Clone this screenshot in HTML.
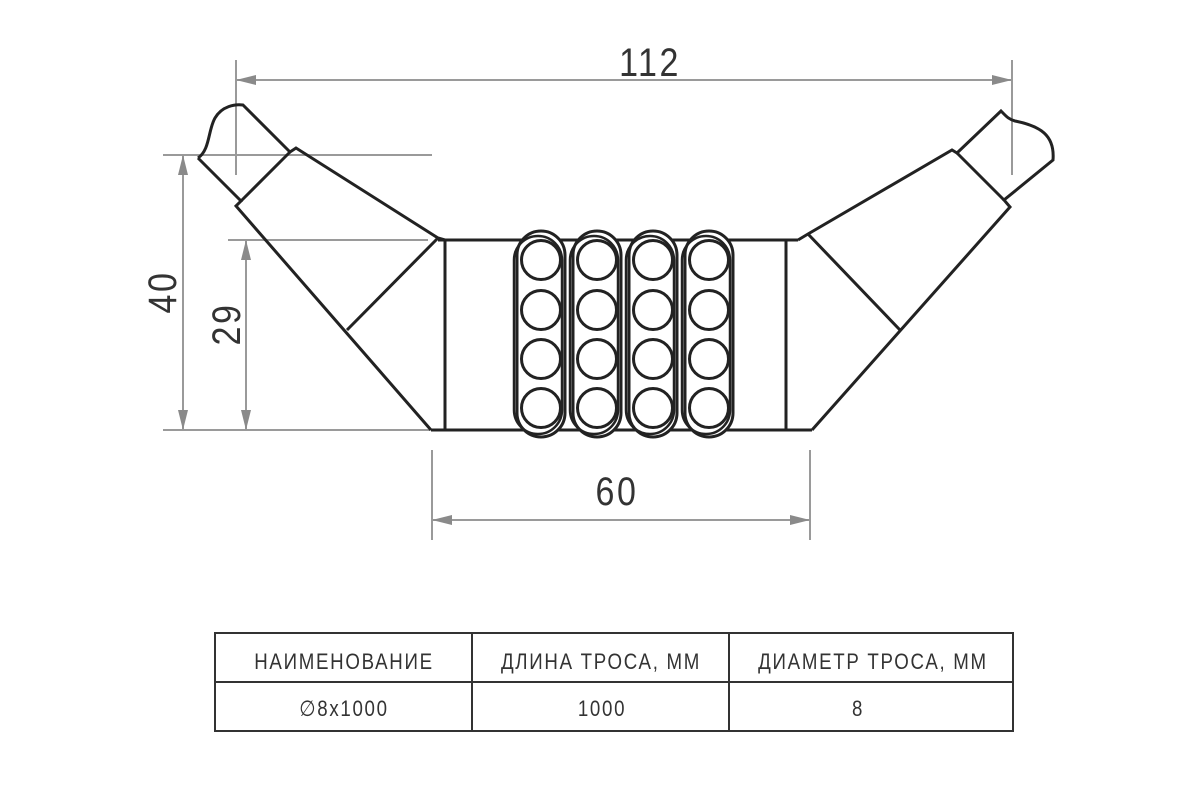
<!DOCTYPE html>
<html><head><meta charset="utf-8"><style>html,body{margin:0;padding:0;background:#fff;}svg{display:block}</style></head>
<body>
<svg width="1200" height="800" viewBox="0 0 1200 800" xmlns="http://www.w3.org/2000/svg">
<defs>
<marker id="a" viewBox="0 0 20 10" refX="20" refY="5" markerWidth="20" markerHeight="10" markerUnits="userSpaceOnUse" orient="auto-start-reverse"><path d="M0,0 L20,5 L0,10 z" fill="#8a8a8a"/></marker>
</defs>
<g stroke="#9a9a9a" stroke-width="2" fill="none">
<line x1="236" y1="60" x2="236" y2="175"/>
<line x1="1012" y1="60" x2="1012" y2="175"/>
<line x1="236" y1="80" x2="1012" y2="80" marker-start="url(#a)" marker-end="url(#a)"/>
<line x1="163" y1="155" x2="432" y2="155"/>
<line x1="228" y1="240" x2="428" y2="240"/>
<line x1="163" y1="430" x2="430" y2="430"/>
<line x1="183" y1="155" x2="183" y2="430" marker-start="url(#a)" marker-end="url(#a)"/>
<line x1="246" y1="240" x2="246" y2="430" marker-start="url(#a)" marker-end="url(#a)"/>
<line x1="432" y1="450" x2="432" y2="540"/>
<line x1="810" y1="450" x2="810" y2="540"/>
<line x1="432" y1="520" x2="810" y2="520" marker-start="url(#a)" marker-end="url(#a)"/>
</g>
<g stroke="#222" stroke-width="3" fill="none" stroke-linejoin="miter">
<path d="M198,158 C210,150 208,130 215,118 C222,106 235,104 243,105 L290,152 L296,148 L438,238 L445,240"/>
<path d="M198,158 L241,201 L236,206 L431,430"/>
<line x1="241" y1="201" x2="290" y2="152"/>
<line x1="347" y1="330" x2="438" y2="238"/>
<line x1="438" y1="240" x2="798" y2="240"/>
<line x1="431" y1="430" x2="812" y2="430"/>
<line x1="445" y1="240" x2="445" y2="430"/>
<line x1="786" y1="240" x2="786" y2="430"/>
<path d="M798,240 L808,234 L952,150 L957,153 L1001,111 C1006,116 1008,119 1015,121 C1040,126 1055,135 1053,160 L1004,200 L1010,207 L812,430"/>
<line x1="957" y1="153" x2="1004" y2="200"/>
<line x1="808" y1="234" x2="900" y2="330"/>
</g>
<g stroke="#222" stroke-width="3" fill="#fff">
<rect x="517" y="231" width="48" height="206" rx="24"/>
<rect x="573" y="231" width="48" height="206" rx="24"/>
<rect x="629" y="231" width="48" height="206" rx="24"/>
<rect x="685" y="231" width="48" height="206" rx="24"/>
</g>
<g stroke="#222" stroke-width="2.5" fill="none">
<rect x="514" y="236" width="48" height="198" rx="24"/>
<rect x="570" y="236" width="48" height="198" rx="24"/>
<rect x="626" y="236" width="48" height="198" rx="24"/>
<rect x="682" y="236" width="48" height="198" rx="24"/>
</g>
<g stroke="#222" stroke-width="3" fill="none">
<circle cx="541" cy="260" r="19.5"/><circle cx="541" cy="310" r="19.5"/><circle cx="541" cy="359" r="19.5"/><circle cx="541" cy="408" r="19.5"/>
<circle cx="597" cy="260" r="19.5"/><circle cx="597" cy="310" r="19.5"/><circle cx="597" cy="359" r="19.5"/><circle cx="597" cy="408" r="19.5"/>
<circle cx="653" cy="260" r="19.5"/><circle cx="653" cy="310" r="19.5"/><circle cx="653" cy="359" r="19.5"/><circle cx="653" cy="408" r="19.5"/>
<circle cx="709" cy="260" r="19.5"/><circle cx="709" cy="310" r="19.5"/><circle cx="709" cy="359" r="19.5"/><circle cx="709" cy="408" r="19.5"/>
</g>
<g font-family="Liberation Sans, sans-serif" fill="#333" text-anchor="middle">
<text font-size="40" letter-spacing="3" transform="translate(650,76) scale(0.85,1)">112</text>
<text font-size="40" letter-spacing="3" transform="translate(617,505) scale(0.85,1)">60</text>
<text font-size="40" letter-spacing="3" transform="translate(176,292) rotate(-90) scale(0.85,1)">40</text>
<text font-size="40" letter-spacing="3" transform="translate(240,324) rotate(-90) scale(0.85,1)">29</text>
</g>
<g stroke="#333" stroke-width="2" fill="none">
<rect x="215" y="633" width="798" height="98"/>
<line x1="215" y1="682" x2="1013" y2="682"/>
<line x1="472" y1="633" x2="472" y2="731"/>
<line x1="729" y1="633" x2="729" y2="731"/>
</g>
<g font-family="Liberation Sans, DejaVu Sans, sans-serif" fill="#333" text-anchor="middle" font-size="22" letter-spacing="2">
<text transform="translate(344,669) scale(0.85,1)">НАИМЕНОВАНИЕ</text>
<text transform="translate(601,669) scale(0.85,1)">ДЛИНА ТРОСА, ММ</text>
<text transform="translate(873,669) scale(0.85,1)">ДИАМЕТР ТРОСА, ММ</text>
<text transform="translate(344,716) scale(0.85,1)">∅8x1000</text>
<text transform="translate(602,716) scale(0.85,1)">1000</text>
<text transform="translate(858,716) scale(0.85,1)">8</text>
</g>
</svg>
</body></html>
